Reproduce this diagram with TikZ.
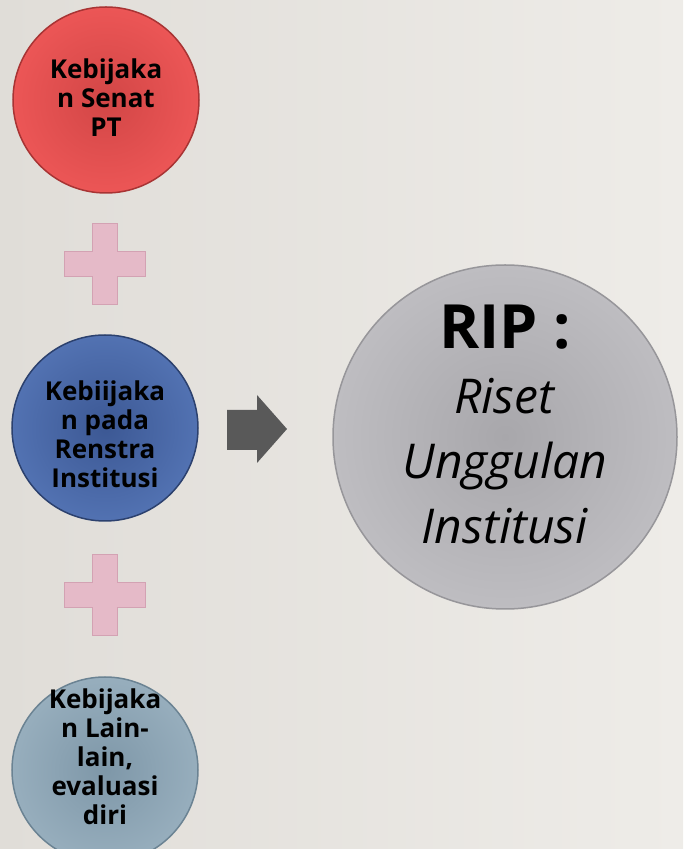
\documentclass[tikz,border=0pt]{standalone}
\usepackage{fontspec}
\setmainfont{Open Sans}
\usepackage{xcolor}
\usetikzlibrary{positioning}

\definecolor{bgdark}{HTML}{E0DDD8}
\definecolor{bglight}{HTML}{EEECE8}
\definecolor{redin}{HTML}{D24646}
\definecolor{redout}{HTML}{EC5656}
\definecolor{redrim}{HTML}{A83434}
\definecolor{bluein}{HTML}{3C5894}
\definecolor{blueout}{HTML}{5272B2}
\definecolor{bluerim}{HTML}{2C416E}
\definecolor{slatein}{HTML}{7E97A8}
\definecolor{slateout}{HTML}{97AEBD}
\definecolor{slaterim}{HTML}{6B8393}
\definecolor{grayin}{HTML}{A8A7AB}
\definecolor{grayout}{HTML}{BEBDC1}
\definecolor{grayrim}{HTML}{97969A}
\definecolor{plusfill}{HTML}{E5BAC8}
\definecolor{plusedge}{HTML}{D3A2B3}
\definecolor{arrowgray}{HTML}{595959}

\tikzset{
  disc/.style={circle, minimum size=186pt, inner sep=0pt, line width=1.5pt},
  smalltext/.style={align=center, font=\bfseries\fontsize{26}{29}\selectfont},
  bigtext/.style={align=center, font=\fontsize{48}{65}\selectfont},
  plusmark/.style={fill=plusfill, draw=plusedge, line width=0.8pt, line join=miter}
}

\begin{document}
\begin{tikzpicture}[x=1pt,y=1pt]
\useasboundingbox (0,0) rectangle (683,849);
\clip (0,0) rectangle (683,849);
\shade[left color=bgdark, right color=bglight] (0,0) rectangle (683,849);

% three inputs
\node[disc, draw=redrim, inner color=redin, outer color=redout] (senat) at (106,749) {};
\node[smalltext] (senatT) at (106,751) {Kebijaka\\n Senat\\PT};
\node[disc, draw=bluerim, inner color=bluein, outer color=blueout] (renstra) at (105,421) {};
\node[smalltext] (renstraT) at (105,415) {Kebiijaka\\n pada\\Renstra\\Institusi};
\node[disc, draw=slaterim, inner color=slatein, outer color=slateout] (lain) at (105,79) {};
\node[smalltext] (lainT) at (105,92) {Kebijaka\\n Lain-\\lain,\\evaluasi\\diri};

% plus signs
\foreach \py in {585,254}
  \draw[plusmark, shift={(104.5,\py)}] (-12.5,40.5) -- (12.5,40.5) -- (12.5,12.5) -- (40.5,12.5) -- (40.5,-12.5) -- (12.5,-12.5) -- (12.5,-40.5) -- (-12.5,-40.5) -- (-12.5,-12.5) -- (-40.5,-12.5) -- (-40.5,12.5) -- (-12.5,12.5) -- cycle;

% block arrow
\fill[arrowgray] (227,399) -- (257,399) -- (257,386) -- (287,420) -- (257,454) -- (257,439) -- (227,439) -- cycle;

% result
\node[disc, minimum size=344pt, draw=grayrim, inner color=grayin, outer color=grayout] (rip) at (505,412) {};
\node[bigtext] (ripT) at (505,425) {\textbf{\fontsize{61}{65}\selectfont RIP :}\\\textit{Riset}\\\textit{Unggulan}\\\textit{Institusi}};
\end{tikzpicture}
\end{document}
